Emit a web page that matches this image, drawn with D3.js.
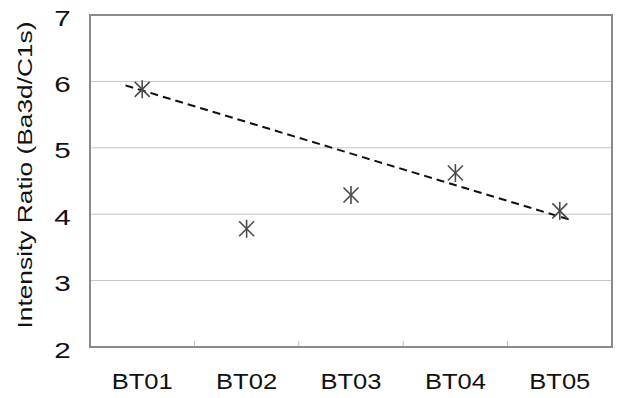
<!DOCTYPE html>
<html>
<head>
<meta charset="utf-8">
<script src="https://cdn.jsdelivr.net/npm/d3@7"></script>
<style>
  html, body { margin: 0; padding: 0; background: #fff; }
  svg { display: block; }
  text { font-family: "Liberation Sans", Arial, sans-serif; fill: #111; }
</style>
</head>
<body>
<svg id="chart" width="618" height="398"></svg>
<script>
// Samples and measured intensity ratios
const categories = ["BT01", "BT02", "BT03", "BT04", "BT05"];
const ratios = [5.88, 3.78, 4.29, 4.62, 4.05];
// Trend line endpoints (category index, ratio)
const trendIndex = [-0.16, 4.09];
const trendRatio = [5.94, 3.92];
const yTicks = [2, 3, 4, 5, 6, 7];
const yTitle = "Intensity Ratio (Ba3d/C1s)";

const svg = d3.select("#chart");
const m = { left: 90, top: 15, right: 6, bottom: 51 };
const W = 618, H = 398;
const plotW = W - m.left - m.right, plotH = H - m.top - m.bottom;

const x = d3.scaleBand().domain(categories).range([0, plotW]);
const y = d3.scaleLinear().domain([2, 7]).range([plotH, 0]);
const idx = d3.scaleLinear().domain([0, 1]).range([x.bandwidth() / 2, x.bandwidth() * 1.5]);

const g = svg.append("g").attr("transform", `translate(${m.left},${m.top})`);

// horizontal gridlines
g.append("g").selectAll("line").data(yTicks.slice(1, -1)).join("line")
  .attr("x1", 0).attr("x2", plotW)
  .attr("y1", d => y(d)).attr("y2", d => y(d))
  .attr("stroke", "#c4c4c4").attr("stroke-width", 1);

// y axis labels (wide gothic-style digits)
const yAxis = g.append("g")
  .call(d3.axisLeft(y).tickValues(yTicks).tickFormat(d3.format("d")).tickSize(0));
yAxis.select(".domain").remove();
yAxis.selectAll("text")
  .attr("x", -27.5).attr("dy", "0.46em")
  .attr("text-anchor", "middle")
  .attr("font-size", 22)
  .attr("textLength", 16.5).attr("lengthAdjust", "spacingAndGlyphs")
  .style("font-family", "Liberation Sans, Arial, sans-serif").attr("fill", "#111");

// x axis: small tick marks between categories, labels centred
const xAxis = g.append("g").attr("transform", `translate(0,${plotH})`)
  .call(d3.axisBottom(x).tickSize(0));
xAxis.select(".domain").remove();
xAxis.selectAll("text")
  .attr("y", 42).attr("dy", 0)
  .attr("font-size", 22)
  .attr("textLength", 61).attr("lengthAdjust", "spacingAndGlyphs")
  .style("font-family", "Liberation Sans, Arial, sans-serif").attr("fill", "#111");
g.append("g").selectAll("line").data(categories.slice(1)).join("line")
  .attr("x1", d => x(d)).attr("x2", d => x(d))
  .attr("y1", plotH).attr("y2", plotH - 6)
  .attr("stroke", "#bbb").attr("stroke-width", 1);

// plot frame
g.append("rect").attr("x", 0).attr("y", 0).attr("width", plotW).attr("height", plotH)
  .attr("fill", "none").attr("stroke", "#8a8a8a").attr("stroke-width", 2);

// dashed trend line
g.append("line")
  .attr("x1", idx(trendIndex[0])).attr("y1", y(trendRatio[0]))
  .attr("x2", idx(trendIndex[1])).attr("y2", y(trendRatio[1]))
  .attr("stroke", "#111").attr("stroke-width", 2).attr("stroke-dasharray", "8,5");

// asterisk markers
const star = g.append("g").selectAll("g").data(ratios).join("g")
  .attr("transform", (d, i) => `translate(${x(categories[i]) + x.bandwidth() / 2},${y(d)})`);
const arms = [[0, -9, 0, 9], [-7.5, -7.5, 7.5, 7.5], [-7.5, 7.5, 7.5, -7.5]];
arms.forEach(a => {
  star.append("line").attr("x1", a[0]).attr("y1", a[1]).attr("x2", a[2]).attr("y2", a[3])
    .attr("stroke", "#4a4a4a").attr("stroke-width", 1.6);
});

// y axis title
svg.append("text")
  .attr("transform", `translate(31.5,175) rotate(-90)`)
  .attr("text-anchor", "middle").attr("font-size", 21).attr("fill", "#111")
  .attr("textLength", 307).attr("lengthAdjust", "spacingAndGlyphs")
  .text(yTitle);
</script>
</body>
</html>
